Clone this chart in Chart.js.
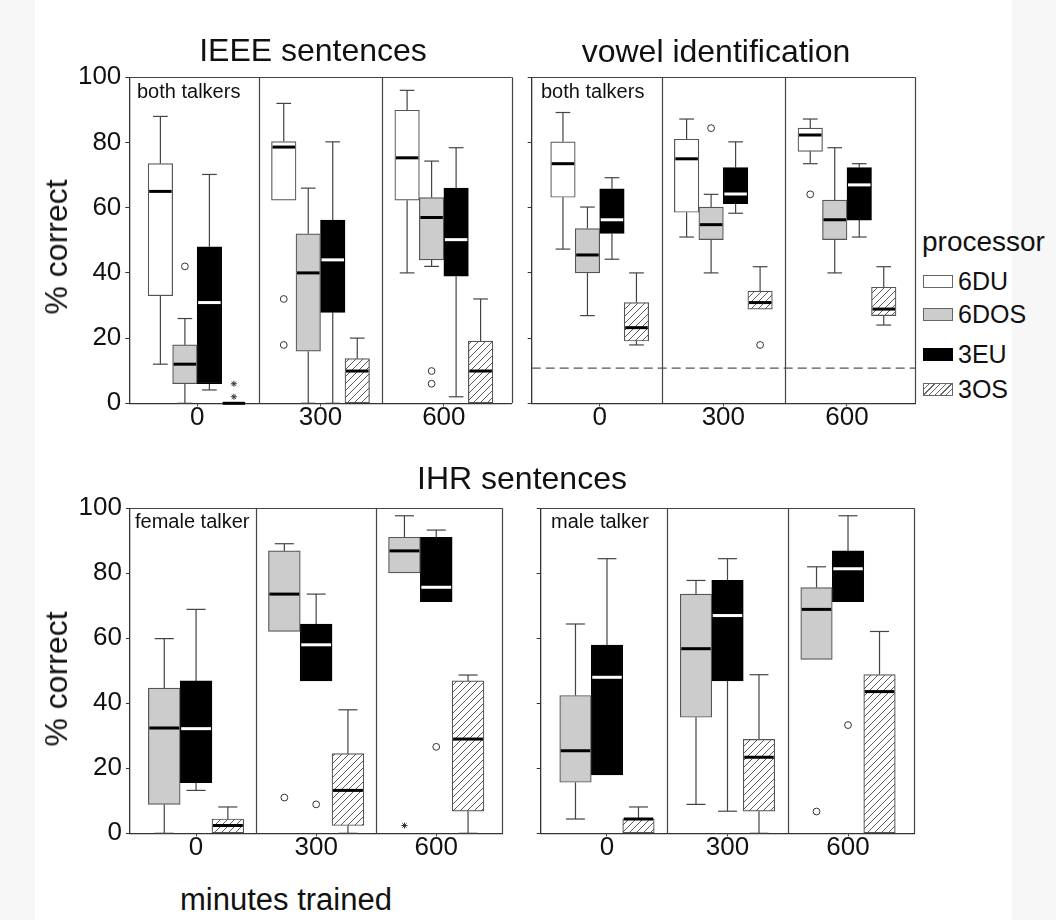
<!DOCTYPE html>
<html>
<head>
<meta charset="utf-8">
<script src="https://cdn.jsdelivr.net/npm/chart.js@4"></script>
<style>
  body { margin: 0; background: #f7f7f7; font-family: "Liberation Sans", Arial, sans-serif; color: #111; }
  #fig { position: relative; width: 1056px; height: 920px; overflow: hidden; }
  #paper { position: absolute; left: 35px; top: 0; width: 977px; height: 920px; background: #fff; }
  canvas { position: absolute; }
  .txt { position: absolute; white-space: nowrap; line-height: 1; }
  .mid { transform: translateX(-50%); }
  .ylab { transform: translate(-50%, -50%) rotate(-90deg); font-size: 32px; }
  #titles { position: absolute; left: 0; top: 0; width: 1056px; height: 62px; overflow: hidden; }
  .sw { position: absolute; left: 923px; width: 28px; height: 11px; border: 1px solid #666; }
</style>
</head>
<body>
<div id="fig">
  <div id="paper"></div>

  <div id="titles">
    <div class="txt mid" style="left:313px; top:34px; font-size:32px;">IEEE sentences</div>
    <div class="txt mid" style="left:716px; top:35px; font-size:32px;">vowel identification</div>
  </div>
  <div class="txt mid" style="left:522px; top:462px; font-size:32px;">IHR sentences</div>

  <div class="txt ylab" style="left:56px; top:247px;">% correct</div>
  <div class="txt ylab" style="left:56px; top:679px;">% correct</div>
  <div class="txt mid" style="left:286px; top:884px; font-size:31px;">minutes trained</div>

  <div class="txt" style="left:137px; top:81px; font-size:20px;">both talkers</div>
  <div class="txt" style="left:541px; top:81px; font-size:20px;">both talkers</div>
  <div class="txt" style="left:135px; top:511px; font-size:20px;">female talker</div>
  <div class="txt" style="left:551px; top:511px; font-size:20px;">male talker</div>

  <div class="txt" style="left:922px; top:228px; font-size:28px;">processor</div>
  <div class="sw" style="top:275px; background:#fff;"></div>
  <div class="txt" style="left:958px; top:269px; font-size:25px;">6DU</div>
  <div class="sw" style="top:308px; background:#ccc;"></div>
  <div class="txt" style="left:958px; top:302px; font-size:25px;">6DOS</div>
  <div class="sw" style="top:348px; background:#000; border-color:#000;"></div>
  <div class="txt" style="left:958px; top:342px; font-size:25px;">3EU</div>
  <div class="sw" style="top:383px; background:repeating-linear-gradient(135deg, #fff 0 3px, #666 3px 4px);"></div>
  <div class="txt" style="left:958px; top:377px; font-size:25px;">3OS</div>
</div>

<script>
// training time groups (minutes) and the dividers between them
const groups = [0, 300, 600];
const dividers = [150, 450];

// box stats per group: [min, q1, median, q3, max]
const ieee6DU  = [[12, 33, 65, 73.5, 88], [62.3, 62.3, 78.6, 80.3, 92], [40, 62.3, 75.3, 89.9, 96]];
const ieee6DOS = [[0, 6, 12, 17.9, 26], [0, 16, 40, 52, 66], [42, 44, 57, 63.1, 74.3]];
const ieee3EU  = [[4.1, 6, 30.9, 48, 70.2], [0, 27.9, 44, 56.2, 80.2], [2, 39, 50.2, 66, 78.4]];
const ieee3OS  = [[0, 0, 0, 0, 0], [0, 0, 9.9, 13.7, 20], [0, 0, 9.9, 19.1, 32]];
// outliers: [processor, group index, value, 'o' = circle, '*' = extreme]
const ieeeOut  = [['6DOS', 0, 42, 'o'], ['3OS', 0, 6, '*'], ['3OS', 0, 2, '*'], ['6DU', 1, 32, 'o'],
                  ['6DU', 1, 17.9, 'o'], ['6DOS', 2, 9.9, 'o'], ['6DOS', 2, 6, 'o']];

const vowel6DU  = [[47.3, 63.2, 73.5, 80.2, 89.2], [51, 58.6, 75, 81, 87.2], [73.5, 77.3, 82.3, 84.4, 87.2]];
const vowel6DOS = [[26.9, 40, 45.5, 53.6, 60.2], [40, 50.2, 54.8, 60.2, 64.1], [40, 50.2, 56.3, 62.3, 78.4]];
const vowel3EU  = [[44.2, 52.1, 56.3, 65.8, 69.2], [58.3, 61.2, 64.2, 72.3, 80.2], [51, 56.2, 67, 72.3, 73.5]];
const vowel3OS  = [[17.9, 19.1, 23.2, 30.9, 40], [28.9, 28.9, 30.9, 34.4, 41.9], [24, 26.9, 28.9, 35.6, 41.9]];
const vowelOut  = [['6DOS', 1, 84.4, 'o'], ['3OS', 1, 17.9, 'o'], ['6DU', 2, 64.1, 'o']];
const vowelChance = 10.8;

const female6DOS = [[0, 8.9, 32.4, 44.7, 59.9], [62.1, 62.1, 73.6, 86.9, 89.1], [80.1, 80.1, 86.9, 91.1, 97.7]];
const female3EU  = [[13.2, 15.6, 32.2, 46.9, 68.9], [46.9, 46.9, 58, 64.4, 73.6], [71.3, 71.3, 75.7, 91.1, 93.3]];
const female3OS  = [[0, 0, 2.4, 4.4, 8.1], [0, 2.4, 13.2, 24.5, 38], [0, 6.8, 29, 46.9, 48.7]];
const femaleOut  = [['6DOS', 1, 11, 'o'], ['3EU', 1, 8.9, 'o'], ['6DOS', 2, 2.4, '*'], ['3EU', 2, 26.6, 'o']];

const male6DOS = [[4.4, 15.7, 25.4, 42.4, 64.4], [8.9, 35.7, 56.8, 73.6, 77.8], [53.5, 53.5, 68.9, 75.6, 82]];
const male3EU  = [[18, 18, 48, 57.9, 84.5], [6.8, 46.9, 67, 77.8, 84.5], [71.3, 71.3, 81.4, 86.9, 97.7]];
const male3OS  = [[0, 0, 4.4, 4.4, 8.1], [0, 6.8, 23.4, 28.9, 48.8], [0, 0, 43.6, 48.8, 62.1]];
const maleOut  = [['6DOS', 2, 6.7, 'o'], ['3EU', 2, 33.3, 'o']];

const FONT = "'Liberation Sans', Arial, sans-serif";

const panels = [
    { left: 0, top: 50, width: 520, yWidth: 129.3, padTop: 27.3, padRight: 8.3, bar: 24.5, labels: true,
      series: [['6DU', ieee6DU], ['6DOS', ieee6DOS], ['3EU', ieee3EU], ['3OS', ieee3OS]], out: ieeeOut },
    { left: 520, top: 50, width: 400, yWidth: 11.7, padTop: 27.3, padRight: 5, bar: 24.5, labels: false,
      series: [['6DU', vowel6DU], ['6DOS', vowel6DOS], ['3EU', vowel3EU], ['3OS', vowel3OS]], out: vowelOut,
      chance: vowelChance },
    { left: 0, top: 480, width: 520, yWidth: 130, padTop: 28.3, padRight: 17.7, bar: 31.8, labels: true,
      series: [['6DOS', female6DOS], ['3EU', female3EU], ['3OS', female3OS]], out: femaleOut },
    { left: 520, top: 480, width: 400, yWidth: 20.7, padTop: 28.3, padRight: 5.7, bar: 31.5, labels: false,
      series: [['6DOS', male6DOS], ['3EU', male3EU], ['3OS', male3OS]], out: maleOut }
];

function seg(ctx, x1, y1, x2, y2) {
    ctx.beginPath();
    ctx.moveTo(x1, y1);
    ctx.lineTo(x2, y2);
    ctx.stroke();
}

function hatchPattern(ctx) {
    const tile = document.createElement('canvas');
    tile.width = tile.height = 7;
    const g = tile.getContext('2d');
    g.fillStyle = '#fff';
    g.fillRect(0, 0, 7, 7);
    g.strokeStyle = '#5a5a5a';
    g.lineWidth = 1;
    g.beginPath();
    g.moveTo(-1, 8); g.lineTo(8, -1);
    g.moveTo(-1, 1); g.lineTo(1, -1);
    g.moveTo(6, 8); g.lineTo(8, 6);
    g.stroke();
    return ctx.createPattern(tile, 'repeat');
}

// whiskers, medians, outliers, frame - all placed with the chart's own scales
function boxPlugin(p) {
    return {
        id: 'boxParts',
        beforeDatasetsDraw(chart) {
            const { ctx, chartArea: a, scales: { x, y } } = chart;
            ctx.save();
            ctx.strokeStyle = '#444';
            ctx.lineWidth = 1.2;
            dividers.forEach(v => {
                const px = Math.round(x.getPixelForValue(v)) + 0.5;
                seg(ctx, px, a.top, px, a.bottom);
            });
            seg(ctx, a.left, Math.round(a.top) + 0.5, a.right, Math.round(a.top) + 0.5);
            seg(ctx, Math.round(a.right) + 0.5, a.top, Math.round(a.right) + 0.5, a.bottom);

            if (p.chance != null) {
                const cy = y.getPixelForValue(p.chance);
                ctx.setLineDash([9, 5]);
                ctx.strokeStyle = '#555';
                seg(ctx, a.left, cy, a.right, cy);
                ctx.setLineDash([]);
            }

            ctx.strokeStyle = '#444';
            ctx.lineWidth = 1.2;
            p.series.forEach(([name, stats], i) => {
                const bars = chart.getDatasetMeta(i).data;
                stats.forEach((s, j) => {
                    const bx = bars[j].x, half = bars[j].width * 0.3;
                    [[s[3], s[4]], [s[1], s[0]]].forEach(([from, to]) => {
                        if (from === to) return;
                        const y1 = y.getPixelForValue(from), y2 = y.getPixelForValue(to);
                        seg(ctx, bx, y1, bx, y2);
                        seg(ctx, bx - half, y2, bx + half, y2);
                    });
                });
            });
            ctx.restore();
        },
        afterDatasetsDraw(chart) {
            const { ctx, scales: { y } } = chart;
            ctx.save();
            ctx.lineWidth = 3;
            p.series.forEach(([name, stats], i) => {
                const bars = chart.getDatasetMeta(i).data;
                ctx.strokeStyle = name === '3EU' ? '#fff' : '#000';
                stats.forEach((s, j) => {
                    const b = bars[j], my = y.getPixelForValue(s[2]);
                    seg(ctx, b.x - b.width / 2 + 1, my, b.x + b.width / 2 - 1, my);
                });
            });

            ctx.lineWidth = 1;
            ctx.strokeStyle = '#333';
            p.out.forEach(([name, j, v, kind]) => {
                const i = p.series.findIndex(s => s[0] === name);
                const b = chart.getDatasetMeta(i).data[j];
                const py = y.getPixelForValue(v);
                if (kind === 'o') {
                    ctx.beginPath();
                    ctx.arc(b.x, py, 3.4, 0, Math.PI * 2);
                    ctx.fillStyle = '#fff';
                    ctx.fill();
                    ctx.stroke();
                } else {
                    for (let k = 0; k < 4; k++) {
                        const ang = k * Math.PI / 4;
                        const dx = Math.cos(ang) * 3, dy = Math.sin(ang) * 3;
                        seg(ctx, b.x - dx, py - dy, b.x + dx, py + dy);
                    }
                }
            });
            ctx.restore();
        }
    };
}

function makePanel(p) {
    const cv = document.createElement('canvas');
    cv.width = p.width;
    cv.height = 400;
    cv.style.left = p.left + 'px';
    cv.style.top = p.top + 'px';
    document.getElementById('fig').insertBefore(cv, document.getElementById('titles'));
    const ctx = cv.getContext('2d');

    const fills = { '6DU': '#ffffff', '6DOS': '#cccccc', '3EU': '#000000', '3OS': hatchPattern(ctx) };
    const edges = { '6DU': '#555', '6DOS': '#555', '3EU': '#000', '3OS': '#555' };

    new Chart(ctx, {
        type: 'bar',
        data: {
            datasets: p.series.map(([name, stats]) => ({
                label: name,
                data: stats.map((s, j) => ({ x: groups[j], y: [s[1], s[3]] })),
                backgroundColor: fills[name],
                borderColor: edges[name],
                borderWidth: 1.2,
                borderSkipped: false,
                barThickness: p.bar
            }))
        },
        options: {
            responsive: false,
            animation: false,
            events: [],
            layout: { padding: { top: p.padTop, right: p.padRight, left: 0, bottom: 0 } },
            plugins: { legend: { display: false }, tooltip: { enabled: false } },
            scales: {
                x: {
                    type: 'linear', min: -165, max: 765, offset: false,
                    afterBuildTicks: s => { s.ticks = groups.map(v => ({ value: v })); },
                    afterFit: s => { s.height = 46.7; },
                    grid: { display: true, offset: false, drawOnChartArea: false, drawTicks: true, tickLength: 3, color: '#333' },
                    border: { color: '#333', width: 1.3 },
                    ticks: {
                        autoSkip: false, maxRotation: 0, padding: 1, color: '#111',
                        font: { size: 26, family: FONT, lineHeight: 0.8 },
                        callback: v => String(v)
                    }
                },
                y: {
                    min: 0, max: 100,
                    afterFit: s => { s.width = p.yWidth; },
                    grid: { display: true, drawOnChartArea: false, drawTicks: true, tickLength: 4, color: '#333' },
                    border: { color: '#333', width: 1.3 },
                    ticks: { display: p.labels, stepSize: 20, padding: 4, color: '#111', font: { size: 26, family: FONT } }
                }
            }
        },
        plugins: [boxPlugin(p)]
    });
}

panels.forEach(makePanel);
</script>
</body>
</html>
